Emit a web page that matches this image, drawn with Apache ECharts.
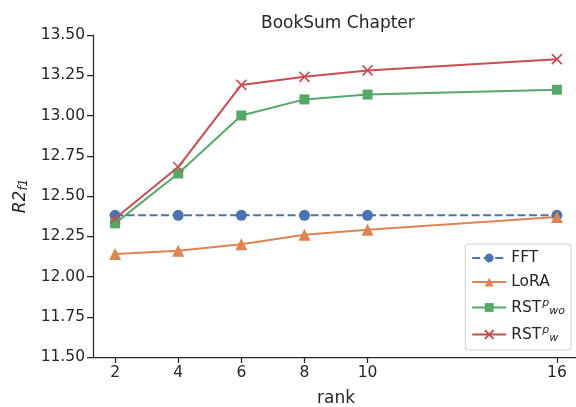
<!DOCTYPE html>
<html><head><meta charset="utf-8">
<script src="https://cdn.jsdelivr.net/npm/echarts@6/dist/echarts.min.js"></script>
<style>html,body{margin:0;padding:0;background:#fff}#c{width:576px;height:407px}</style>
</head><body><div id="c"></div>
<script>
const ranks = [2, 4, 6, 8, 10, 16];
const xTicks = [2, 4, 6, 8, 10, 16];
const fft = [12.38, 12.38, 12.38, 12.38, 12.38, 12.38];
const lora = [12.14, 12.16, 12.20, 12.26, 12.29, 12.37];
const rstWo = [12.33, 12.64, 13.00, 13.10, 13.13, 13.16];
const rstW = [12.36, 12.68, 13.19, 13.24, 13.28, 13.35];
const seriesNames = ['FFT', 'LoRA', 'RST_wo', 'RST_w'];

const F = 'DejaVu Sans';
const dark = '#262626';
const pair = (ys) => ranks.map((x, i) => [x, ys[i]]);
const crossPath = 'path://M0,0L10,10M10,0L0,10';

const chart = echarts.init(document.getElementById('c'), null, {renderer: 'canvas'});
chart.setOption({
  animation: false,
  backgroundColor: '#fff',
  title: {text: 'BookSum Chapter', left: 256, top: 10,
    textStyle: {fontFamily: F, fontSize: 17, fontWeight: 'normal', color: dark}},
  grid: {left: 93, right: -3, top: 35, bottom: 50, containLabel: false, outerBoundsMode: 'none'},
  xAxis: {type: 'value', min: 1.3, max: 16.7,
    name: 'rank', nameLocation: 'middle', nameGap: 33,
    nameTextStyle: {fontFamily: F, fontSize: 17, color: dark},
    axisLine: {lineStyle: {color: dark, width: 1.25}},
    axisTick: {show: true, length: 6, lineStyle: {color: dark, width: 1.25}, customValues: xTicks},
    axisLabel: {customValues: xTicks, fontFamily: F, fontSize: 15.5, color: dark, margin: 8},
    splitLine: {show: false}},
  yAxis: {type: 'value', min: 11.5, max: 13.5, interval: 0.25,
    name: '{i|R2}{s|f1}', nameLocation: 'middle', nameGap: 62, nameRotate: 90,
    nameTextStyle: {rich: {
      i: {fontFamily: F, fontSize: 17, fontStyle: 'italic', color: dark},
      s: {fontFamily: F, fontSize: 12, fontStyle: 'italic', color: dark, verticalAlign: 'bottom', padding: [6, 0, 0, 0]}}},
    axisLine: {show: true, lineStyle: {color: dark, width: 1.25}},
    axisTick: {show: true, length: 6, lineStyle: {color: dark, width: 1.25}},
    axisLabel: {fontFamily: F, fontSize: 15.5, color: dark, margin: 8,
      formatter: v => v.toFixed(2)},
    splitLine: {show: false}},
  legend: {
    right: 5, top: 244, orient: 'vertical', itemGap: 8,
    itemWidth: 34, itemHeight: 11,
    backgroundColor: '#fff', borderColor: '#d0d0d0', borderWidth: 1, borderRadius: 3,
    padding: [6, 6, 6, 6],
    data: seriesNames,
    formatter: n => {
      if (n === 'RST_wo') return '{t|RST}{p|p}{b|wo}';
      if (n === 'RST_w') return '{t|RST}{p|p}{b|w}';
      return '{t|' + n + '}';
    },
    textStyle: {fontFamily: F, fontSize: 15.5, color: dark, rich: {
      t: {fontFamily: F, fontSize: 15.5, color: dark},
      p: {fontFamily: F, fontSize: 11, fontStyle: 'italic', color: dark, verticalAlign: 'top', padding: [0, 0, 8, 1]},
      b: {fontFamily: F, fontSize: 11, fontStyle: 'italic', color: dark, verticalAlign: 'bottom', padding: [6, 0, 0, 0]}
    }}
  },
  series: [
    {name: 'FFT', type: 'line', data: pair(fft), symbol: 'circle', symbolSize: 11,
      color: '#4c72b0', lineStyle: {width: 2, type: [8, 3.5], color: '#4c72b0'}, itemStyle: {color: '#4c72b0'}},
    {name: 'LoRA', type: 'line', data: pair(lora), symbol: 'triangle', symbolSize: 12,
      color: '#dd8452', lineStyle: {width: 2, color: '#dd8452'}, itemStyle: {color: '#dd8452'}},
    {name: 'RST_wo', type: 'line', data: pair(rstWo), symbol: 'rect', symbolSize: 10,
      color: '#55a868', lineStyle: {width: 2, color: '#55a868'}, itemStyle: {color: '#55a868'}},
    {name: 'RST_w', type: 'line', data: pair(rstW), symbol: crossPath, symbolSize: 10,
      color: '#c44e52', lineStyle: {width: 2, color: '#c44e52'},
      itemStyle: {color: 'none', borderColor: '#c44e52', borderWidth: 1.6}}
  ]
});
</script></body></html>
